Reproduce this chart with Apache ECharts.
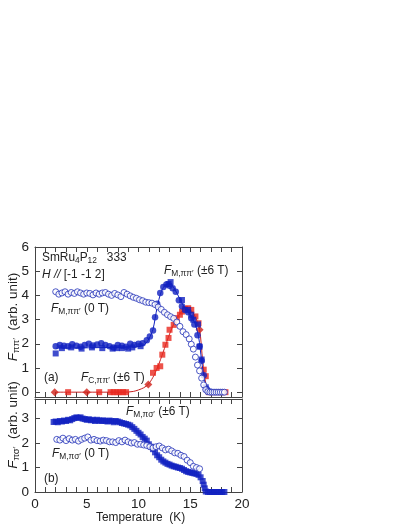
<!DOCTYPE html>
<html>
<head>
<meta charset="utf-8">
<script src="https://cdn.jsdelivr.net/npm/echarts@6/dist/echarts.min.js"></script>
<style>
  html, body { margin: 0; padding: 0; background: #fff; }
  #main { width: 409px; height: 529px; }
</style>
</head>
<body>
<div id="main"></div>
<script>
// ---- data: [temperature (K), intensity (arb. unit)] ----

// (a) F_M,pipi' at 0 T (open circles)
const fmPiPi0T = [
  [2.0, 4.15], [2.3, 4.05], [2.6, 4.1], [2.9, 4.15], [3.2, 4.05], [3.5, 4.12], [3.8, 4.08], [4.1, 4.15],
  [4.4, 4.1], [4.7, 4.05], [5.0, 4.1], [5.3, 4.08], [5.6, 4.02], [5.9, 4.1], [6.2, 4.05], [6.5, 4.1],
  [6.8, 4.12], [7.1, 4.05], [7.4, 4.0], [7.7, 4.08], [8.0, 4.02], [8.3, 3.95], [8.6, 4.12], [8.9, 4.05],
  [9.2, 3.98], [9.5, 3.92], [9.8, 3.88], [10.1, 3.82], [10.4, 3.78], [10.7, 3.72], [11.0, 3.7], [11.3, 3.68],
  [11.6, 3.62], [11.9, 3.52], [12.2, 3.42], [12.5, 3.3], [12.8, 3.2], [13.1, 3.12], [13.4, 3.05], [13.7, 2.9],
  [14.0, 2.72], [14.3, 2.5], [14.6, 2.38], [14.9, 2.2], [15.1, 1.98], [15.3, 1.78], [15.5, 1.45], [15.7, 1.12],
  [15.9, 0.88], [16.1, 0.58], [16.3, 0.3], [16.5, 0.1], [16.7, 0.02], [16.9, 0], [17.1, 0], [17.3, 0],
  [17.5, 0], [17.7, 0], [17.9, 0], [18.1, 0], [18.3, 0]
];

// (a) F_M,pipi' at +6 T (filled circles) and -6 T (filled squares)
const fmPiPiPlus = [
  [2.0, 1.9], [2.4, 1.95], [2.8, 1.92], [3.2, 1.9], [3.6, 1.98], [4.0, 1.92], [4.4, 1.88], [4.8, 1.95],
  [5.2, 2.0], [5.6, 1.93], [6.0, 1.97], [6.4, 2.02], [6.8, 1.95], [7.2, 1.9], [7.6, 1.85], [8.0, 1.95],
  [8.4, 1.92], [8.8, 1.88], [9.2, 2.0], [9.6, 1.95], [10.0, 2.0], [10.4, 2.02], [10.8, 2.15], [11.1, 2.3],
  [11.4, 2.55], [11.6, 3.1], [11.8, 3.65], [12.1, 4.1], [12.4, 4.35], [12.7, 4.45], [13.0, 4.4], [13.3, 4.3],
  [13.6, 4.15], [13.9, 3.8], [14.2, 3.55], [14.5, 3.4], [14.8, 3.3], [15.1, 3.05], [15.4, 2.8], [15.7, 2.35],
  [15.9, 1.9], [16.1, 1.3], [16.3, 0.7], [16.6, 0.12], [16.9, 0.02]
];
const fmPiPiMinus = [
  [2.0, 1.6], [2.6, 1.82], [3.5, 1.85], [4.5, 1.8], [5.5, 1.85], [6.5, 1.82], [7.5, 1.8], [7.9, 1.82],
  [8.4, 1.82], [9.0, 1.8], [9.4, 1.85], [10.2, 1.9], [12.9, 4.47], [13.1, 4.55], [14.2, 3.81], [14.8, 3.4],
  [15.1, 3.2], [15.3, 2.99], [15.75, 2.8], [15.9, 1.88], [16.1, 1.35], [16.5, 0.2], [16.8, 0.02]
];
// guide line drawn through F_M,pipi' (+-6 T)
const fmPiPiFit = [
  [2.0, 1.82], [6.0, 1.84], [10.0, 1.88], [10.6, 1.98], [11.0, 2.2], [11.4, 2.6], [11.8, 3.5], [12.2, 4.15],
  [12.7, 4.45], [13.1, 4.45], [13.5, 4.25], [14.0, 3.85], [14.5, 3.45], [15.0, 3.2], [15.4, 2.9], [15.8, 2.3],
  [16.1, 1.3], [16.4, 0.45], [16.7, 0.05], [17.0, 0]
];

// (a) F_C,pipi' at +-6 T (red squares, red diamonds) and its guide line
const fcPiPiSq = [
  [3.2, 0], [6.2, 0], [7.3, 0], [7.6, 0], [7.9, 0], [8.2, 0], [8.5, 0], [8.8, 0],
  [11.4, 0.8], [11.75, 1.0], [12.1, 1.07], [12.3, 1.55], [12.6, 1.96], [12.9, 2.24], [13.0, 2.58], [13.4, 2.78],
  [13.7, 3.06], [14.0, 3.2], [14.2, 3.33], [14.5, 3.44], [14.8, 3.47], [15.1, 3.4], [15.5, 3.13], [15.8, 2.85],
  [16.3, 0.93], [16.5, 0.66], [16.8, 0], [17.2, 0], [17.6, 0], [18.0, 0], [18.4, 0]
];
const fcPiPiDia = [
  [1.9, 0], [5.0, 0], [10.95, 0.32], [15.9, 2.58]
];
const fcPiPiFit = [
  [2.0, 0], [8.5, 0], [9.5, 0.03], [10.5, 0.18], [11.0, 0.35], [11.5, 0.7], [12.0, 1.2], [12.5, 1.8],
  [13.0, 2.4], [13.5, 2.9], [14.0, 3.25], [14.5, 3.42], [15.0, 3.4], [15.5, 3.1], [15.9, 2.6], [16.2, 1.3],
  [16.5, 0.35], [16.8, 0]
];

// (b) F_M,pisigma' at +-6 T (filled squares) and 0 T (open circles)
const fmPiSigPlus = [
  [1.8, 2.86], [2.0, 2.88], [2.2, 2.85], [2.4, 2.9], [2.6, 2.88], [2.8, 2.92], [3.0, 2.9], [3.2, 2.95],
  [3.4, 2.93], [3.6, 2.98], [3.8, 3.02], [4.0, 3.05], [4.2, 3.03], [4.4, 3.05], [4.6, 3.0], [4.8, 2.98],
  [5.0, 2.95], [5.2, 2.97], [5.4, 2.93], [5.6, 2.95], [5.8, 2.9], [6.0, 2.95], [6.2, 2.92], [6.4, 2.9],
  [6.6, 2.93], [6.8, 2.9], [7.0, 2.88], [7.2, 2.92], [7.4, 2.9], [7.6, 2.85], [7.8, 2.9], [8.0, 2.88],
  [8.2, 2.85], [8.4, 2.82], [8.6, 2.8], [8.8, 2.78], [9.0, 2.75], [9.2, 2.72], [9.4, 2.65], [9.6, 2.58],
  [9.8, 2.5], [10.0, 2.42], [10.2, 2.35], [10.4, 2.25], [10.6, 2.18], [10.8, 2.1], [11.0, 1.95], [11.2, 1.85],
  [11.4, 1.75], [11.6, 1.62], [11.8, 1.5], [12.0, 1.42], [12.2, 1.32], [12.4, 1.25], [12.6, 1.2], [12.8, 1.15],
  [13.0, 1.12], [13.2, 1.08], [13.4, 1.05], [13.6, 1.03], [13.8, 1.0], [14.0, 0.98], [14.2, 0.95], [14.4, 0.9],
  [14.6, 0.85], [14.8, 0.82], [15.0, 0.8], [15.2, 0.78], [15.4, 0.76], [15.6, 0.74], [15.8, 0.7], [16.0, 0.6],
  [16.2, 0.45], [16.3, 0.3], [16.4, 0.15], [16.5, 0.02], [16.7, 0], [16.9, 0], [17.1, 0], [17.3, 0],
  [17.5, 0], [17.7, 0], [17.9, 0], [18.1, 0], [18.3, 0]
];
const fmPiSig0T = [
  [2.1, 2.15], [2.4, 2.12], [2.7, 2.2], [3.0, 2.1], [3.3, 2.18], [3.6, 2.12], [3.9, 2.15], [4.2, 2.08],
  [4.5, 2.15], [4.8, 2.2], [5.1, 2.25], [5.4, 2.12], [5.7, 2.15], [6.0, 2.1], [6.3, 2.08], [6.6, 2.12],
  [6.9, 2.1], [7.2, 2.05], [7.5, 2.05], [7.8, 2.02], [8.1, 2.1], [8.4, 2.05], [8.7, 2.12], [9.0, 2.05],
  [9.3, 2.0], [9.6, 2.02], [9.9, 1.95], [10.2, 1.95], [10.5, 1.92], [10.8, 1.9], [11.1, 1.85], [11.4, 1.8],
  [11.7, 1.85], [12.0, 1.88], [12.3, 1.8], [12.6, 1.72], [12.9, 1.75], [13.2, 1.68], [13.5, 1.6], [13.8, 1.58],
  [14.1, 1.5], [14.4, 1.45], [14.7, 1.3], [15.0, 1.2], [15.3, 1.05], [15.6, 1.0], [15.9, 0.95]
];

// tick values
const yTicksA = [0, 1, 2, 3, 4, 5, 6];
const yTicksB = [0, 1, 2, 3];

const FONT = 'Liberation Sans, Arial, sans-serif';
const BLUE = '#1020c0';
const RED = '#e8281e';
const AXIS = '#444';

const chart = echarts.init(document.getElementById('main'));

function xAx (grid, pos, labels) {
  return {
    type: 'value', gridIndex: grid, position: pos, min: 0, max: 20, interval: 1,
    axisLine: { show: true, onZero: false, lineStyle: { color: AXIS, width: 1 } },
    axisTick: { show: true, inside: true, length: 5, lineStyle: { color: AXIS } },
    axisLabel: {
      show: labels, margin: 5, fontFamily: FONT, fontSize: 13.5, color: '#222',
      formatter: v => (v % 5 === 0 ? String(v) : '')
    },
    splitLine: { show: false }
  };
}
function yAx (grid, pos, min, max, ticks, labels) {
  return {
    type: 'value', gridIndex: grid, position: pos, min: min, max: max,
    axisLine: { show: true, onZero: false, lineStyle: { color: AXIS, width: 1 } },
    axisTick: { show: true, inside: true, length: 5, customValues: ticks, lineStyle: { color: AXIS } },
    axisLabel: { show: labels, margin: 6, customValues: ticks, fontFamily: FONT, fontSize: 13.5, color: '#222' },
    splitLine: { show: false }
  };
}

// subscript / italic rich text styles
const rich = {
  i: { fontFamily: FONT, fontSize: 13.5, fontStyle: 'italic', color: '#222' },
  s: { fontFamily: FONT, fontSize: 9.5, padding: [7, 0, 0, 0], color: '#222' }
};
function label (x, y, text) {
  return {
    type: 'text', x: x, y: y, scaleX: 0.88, z: 100,
    style: { text: text, rich: rich, fontFamily: FONT, fontSize: 13.5, fill: '#222', align: 'left', verticalAlign: 'middle' }
  };
}

const option = {
  animation: false,
  backgroundColor: '#fff',
  grid: [
    { left: 35, top: 247, width: 207, height: 150 },
    { left: 35, top: 399, width: 207, height: 93 }
  ],
  xAxis: [xAx(0, 'bottom', false), xAx(0, 'top', false), xAx(1, 'bottom', true), xAx(1, 'top', false)],
  yAxis: [
    yAx(0, 'left', -0.2, 6, yTicksA, true), yAx(0, 'right', -0.2, 6, yTicksA, false),
    yAx(1, 'left', 0, 3.8, yTicksB, true), yAx(1, 'right', 0, 3.8, yTicksB, false)
  ],
  series: [
    { name: 'fcFit', type: 'line', smooth: 0.3, showSymbol: false, xAxisIndex: 0, yAxisIndex: 0,
      lineStyle: { color: '#c82020', width: 1 }, data: fcPiPiFit, z: 2 },
    { name: 'fcSq', type: 'scatter', symbol: 'rect', symbolSize: 6, xAxisIndex: 0, yAxisIndex: 0,
      itemStyle: { color: RED }, data: fcPiPiSq, z: 3 },
    { name: 'fcDia', type: 'scatter', symbol: 'diamond', symbolSize: 8, xAxisIndex: 0, yAxisIndex: 0,
      itemStyle: { color: '#d02018' }, data: fcPiPiDia, z: 3 },
    { name: 'fmFit', type: 'line', smooth: 0.3, showSymbol: false, xAxisIndex: 0, yAxisIndex: 0,
      lineStyle: { color: BLUE, width: 1 }, data: fmPiPiFit, z: 4 },
    { name: 'fmMinus', type: 'scatter', symbol: 'rect', symbolSize: 6, xAxisIndex: 0, yAxisIndex: 0,
      itemStyle: { color: BLUE }, data: fmPiPiMinus, z: 5 },
    { name: 'fmPlus', type: 'scatter', symbol: 'circle', symbolSize: 6.5, xAxisIndex: 0, yAxisIndex: 0,
      itemStyle: { color: BLUE }, data: fmPiPiPlus, z: 5 },
    { name: 'fm0T', type: 'scatter', symbol: 'circle', symbolSize: 6, xAxisIndex: 0, yAxisIndex: 0,
      itemStyle: { color: '#fff', borderColor: '#2030b8', borderWidth: 1 }, data: fmPiPi0T, z: 6 },
    { name: 'fmsPlus', type: 'scatter', symbol: 'rect', symbolSize: 6, xAxisIndex: 2, yAxisIndex: 2,
      itemStyle: { color: BLUE }, data: fmPiSigPlus, z: 5 },
    { name: 'fms0T', type: 'scatter', symbol: 'circle', symbolSize: 6, xAxisIndex: 2, yAxisIndex: 2,
      itemStyle: { color: '#fff', borderColor: '#2030b8', borderWidth: 1 }, data: fmPiSig0T, z: 6 }
  ],
  graphic: [
    label(42, 257, 'SmRu{s|4}P{s|12}   333'),
    label(42, 274, '{i|H //} [-1 -1 2]'),
    label(164, 270, '{i|F}{s|M,ππ′} (±6 T)'),
    label(51, 308, '{i|F}{s|M,ππ′} (0 T)'),
    label(44, 377, '(a)'),
    label(81, 377, '{i|F}{s|C,ππ′} (±6 T)'),
    label(126, 411, '{i|F}{s|M,πσ′} (±6 T)'),
    label(52, 453, '{i|F}{s|M,πσ′} (0 T)'),
    label(44, 478, '(b)'),
    label(96, 517, 'Temperature  (K)'),
    { type: 'text', x: 13, y: 317, rotation: Math.PI / 2, z: 100,
      style: { text: '{i|F}{s|ππ′}  (arb. unit)', rich: rich, fontFamily: FONT, fontSize: 13.5, fill: '#222', align: 'center', verticalAlign: 'middle' } },
    { type: 'text', x: 13, y: 425, rotation: Math.PI / 2, z: 100,
      style: { text: '{i|F}{s|πσ′}  (arb. unit)', rich: rich, fontFamily: FONT, fontSize: 13.5, fill: '#222', align: 'center', verticalAlign: 'middle' } }
  ]
};

chart.setOption(option);
</script>
</body>
</html>
